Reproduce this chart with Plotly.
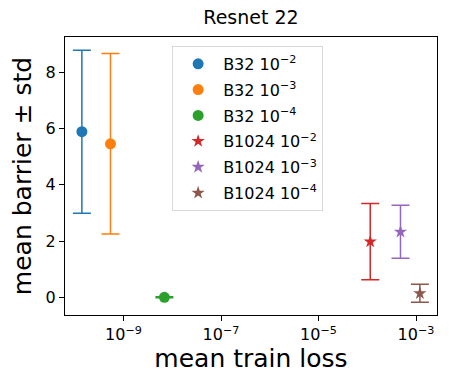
import plotly.graph_objects as go

# data
labels = ["B32 10<sup>−2</sup>", "B32 10<sup>−3</sup>", "B32 10<sup>−4</sup>",
          "B1024 10<sup>−2</sup>", "B1024 10<sup>−3</sup>", "B1024 10<sup>−4</sup>"]
train_loss = [1.4e-10, 5.4e-10, 6.9e-9, 1.15e-4, 4.8e-4, 1.2e-3]
barrier_mean = [5.89, 5.46, 0.0, 1.98, 2.33, 0.14]
barrier_std = [2.90, 3.21, 0.02, 1.36, 0.94, 0.32]

x_tickvals = [1e-9, 1e-7, 1e-5, 1e-3]
x_ticktext = ["10<sup>−9</sup>", "10<sup>−7</sup>", "10<sup>−5</sup>", "10<sup>−3</sup>"]
y_tickvals = [0, 2, 4, 6, 8]

colors = ["#1f77b4", "#ff7f0e", "#2ca02c", "#d62728", "#9467bd", "#8c564b"]
symbols = ["circle"] * 3 + ["star"] * 3

fig = go.Figure()
for i in range(len(labels)):
    fig.add_trace(go.Scatter(
        x=[train_loss[i]],
        y=[barrier_mean[i]],
        mode="markers",
        name=labels[i],
        legendgroup="g%d" % i,
        marker=dict(color=colors[i], symbol=symbols[i], size=11 if symbols[i] == "circle" else 10,
                    line=dict(width=0)),
        error_y=dict(type="data", array=[barrier_std[i]], color=colors[i],
                     thickness=1.5, width=9, visible=True)))

fig.update_layout(
    width=449, height=388,
    margin=dict(l=65, r=12, t=37, b=73),
    paper_bgcolor="white", plot_bgcolor="white",
    font=dict(family="DejaVu Sans", color="black", size=16),
    title=dict(text="Resnet 22", x=(65 + 437) / 2 / 449, xanchor="center",
               y=1 - 17 / 388, yanchor="middle", font=dict(size=19)),
    showlegend=True,
    legend=dict(x=0.288, y=0.968, xanchor="left", yanchor="top",
                bgcolor="white", bordercolor="#d9d9d9", borderwidth=1,
                font=dict(size=16), itemwidth=40, tracegroupgap=2),
)
fig.update_xaxes(
    type="log", range=[-10.2, -2.57],
    tickvals=x_tickvals, ticktext=x_ticktext,
    ticks="outside", ticklen=5, tickcolor="black",
    showline=True, linecolor="black", linewidth=1.2, mirror=True,
    showgrid=False, zeroline=False,
    title=dict(text="mean train loss", font=dict(size=25), standoff=4),
)
fig.update_yaxes(
    range=[-0.63, 9.26],
    tickvals=y_tickvals,
    ticks="outside", ticklen=5, tickcolor="black",
    showline=True, linecolor="black", linewidth=1.2, mirror=True,
    showgrid=False, zeroline=False,
    title=dict(text="mean barrier ± std", font=dict(size=25), standoff=6),
)

fig.write_html("out.html", config={"displayModeBar": False},
               post_script="document.body.style.margin='0';")
